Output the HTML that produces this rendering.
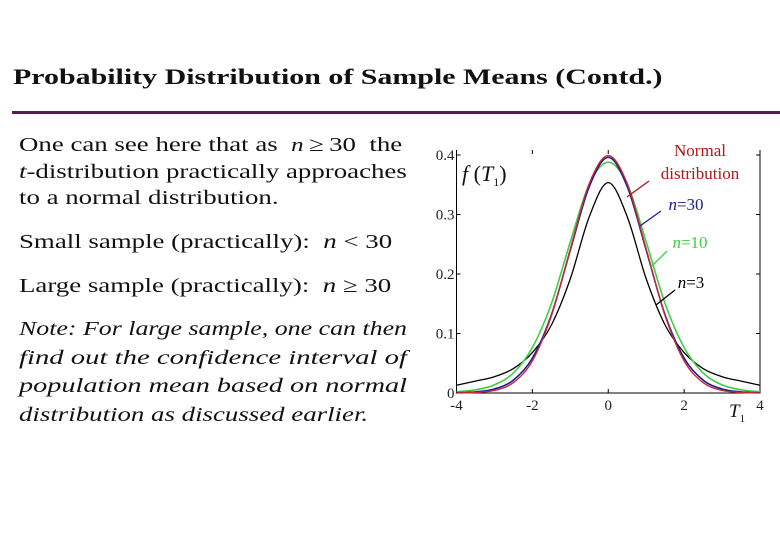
<!DOCTYPE html>
<html><head><meta charset="utf-8"><style>
body{margin:0;width:780px;height:540px;background:#fff;overflow:hidden;position:relative;font-family:"Liberation Serif",serif;}
.t{position:absolute;white-space:nowrap;color:#111;transform-origin:0 0;}
.nl{position:absolute;left:19px;white-space:nowrap;font-size:20.5px;font-style:italic;color:#111;transform-origin:0 0;}
</style></head><body>
<div class="t" style="left:13px;top:64px;font-size:22.5px;font-weight:bold;transform:scaleX(1.33);">Probability Distribution of Sample Means (Contd.)</div>
<div style="position:absolute;left:12px;top:111px;width:768px;height:3px;background:#5a1a52;"></div>
<div class="t" style="left:19px;top:132px;font-size:20.5px;line-height:26px;transform:scaleX(1.31);">One can see here that as &nbsp;<i style="font-size:19px">n</i>&thinsp;≥&thinsp;30 &nbsp;the<br><i>t</i>-distribution practically approaches<br>to a normal distribution.</div>
<div class="t" style="left:19px;top:231px;font-size:20.5px;transform:scaleX(1.31);">Small sample (practically): &nbsp;<i>n</i> &lt; 30</div>
<div class="t" style="left:19px;top:275px;font-size:20.5px;transform:scaleX(1.31);">Large sample (practically): &nbsp;<i>n</i> ≥ 30</div>
<div>
<div class="nl fit" style="top:318px">Note: For large sample, one can then</div>
<div class="nl fit" style="top:346.5px">find out the confidence interval of</div>
<div class="nl fit" style="top:375px">population mean based on normal</div>
<div class="nl" style="top:403.5px;transform:scaleX(1.31)">distribution as discussed earlier.</div>
</div>
<svg id="chart" width="780" height="540" style="position:absolute;left:0;top:0" font-family="Liberation Serif, serif"></svg>
<script>
document.querySelectorAll('.fit').forEach(d=>{const w=d.getBoundingClientRect().width;d.style.transform='scaleX('+(388/w)+')';});
const xs=[-4,-3.5,-3,-2.5,-2,-1.5,-1,-0.5,0,0.5,1,1.5,2,2.5,3,3.5,4];
const normalVals=[0.0001,0.0009,0.0044,0.0175,0.054,0.1295,0.242,0.352,0.399,0.352,0.242,0.1295,0.054,0.0175,0.0044,0.0009,0.0001];
const n30Vals=[0.0004,0.0019,0.0068,0.0216,0.0586,0.131,0.240,0.347,0.396,0.347,0.240,0.131,0.0586,0.0216,0.0068,0.0019,0.0004];
const n10Vals=[0.0021,0.0054,0.0137,0.0337,0.0764,0.150,0.254,0.351,0.388,0.351,0.254,0.150,0.0764,0.0337,0.0137,0.0054,0.0021];
const n3Vals=[0.0131,0.0200,0.0274,0.0411,0.068,0.1141,0.192,0.2963,0.3536,0.2963,0.192,0.1141,0.068,0.0411,0.0274,0.0200,0.0131];
const xTicks=[-4,-2,0,2,4];
const xTickLabels=["-4","-2","0","2","4"];
const yTicks=[0,0.1,0.2,0.3,0.4];
const yTickLabels=["0","0.1","0.2","0.3","0.4"];
const svg=document.getElementById('chart');
const NS='http://www.w3.org/2000/svg';
const X0=456.5,X1=760,Y0=393,Y1=155;
function sx(v){return X0+(v+4)/8*(X1-X0);}
function sy(v){return Y0-v/0.4*(Y0-Y1);}
function mk(tag,attrs){const e=document.createElementNS(NS,tag);for(const k in attrs)e.setAttribute(k,attrs[k]);svg.appendChild(e);return e;}
let e=mk('path',{d:`M${X0} ${Y1-5}V${Y0}H${X1}V${Y1-5}`,fill:'none',stroke:'#000','stroke-width':1});


xTicks.forEach((t,i)=>{
 const x=sx(t);
 let l=mk('line',{x1:x,x2:x,y1:Y0,y2:Y0-4,stroke:'#000'});
 
 
 let l2=mk('line',{x1:x,x2:x,y1:Y1-5,y2:Y1-1,stroke:'#000'});
 
 
 let tx=mk('text',{x:x,y:Y0+17,'font-size':15,'text-anchor':'middle',fill:'#222'});
 tx.textContent=xTickLabels[i];
 
 
});
yTicks.forEach((t,i)=>{
 const y=sy(t);
 let l=mk('line',{x1:X0,x2:X0+4,y1:y,y2:y,stroke:'#000'});
 
 
 let l2=mk('line',{x1:X1,x2:X1-4,y1:y,y2:y,stroke:'#000'});
 
 
 let tx=mk('text',{x:X0-2,y:y+5,'font-size':15,'text-anchor':'end',fill:'#222'});
 tx.textContent=yTickLabels[i];
 
 
});
function curve(vals){
 const p=xs.map((x,i)=>[sx(x),sy(vals[i])]);
 let d=`M${p[0][0]} ${p[0][1]}`;
 for(let i=0;i<p.length-1;i++){
  const a=p[Math.max(0,i-1)],b=p[i],c=p[i+1],f=p[Math.min(p.length-1,i+2)];
  d+=`C${b[0]+(c[0]-a[0])/6} ${b[1]+(c[1]-a[1])/6} ${c[0]-(f[0]-b[0])/6} ${c[1]-(f[1]-b[1])/6} ${c[0]} ${c[1]}`;
 }
 return d;
}
e=mk('path',{d:curve(n3Vals),fill:'none',stroke:'#000','stroke-width':1.3});


e=mk('path',{d:curve(n10Vals),fill:'none',stroke:'#3ecf3e','stroke-width':1.6});


e=mk('path',{d:curve(n30Vals),fill:'none',stroke:'#1c1c8c','stroke-width':1.6});


e=mk('path',{d:curve(normalVals),fill:'none',stroke:'#c8283c','stroke-width':1.4});


function lab(txt,x,y,col,name){
 const t=mk('text',{x:x,y:y,'font-size':17,fill:col,'text-anchor':'middle'});
 t.innerHTML=txt;
 
 
}
lab('Normal',700,156,'#b0181c','normal-label');
lab('distribution',700,179,'#b0181c','normal-label-2');
lab('<tspan font-style="italic">n</tspan>=30',686,210,'#1c1c8c','n30-label');
lab('<tspan font-style="italic">n</tspan>=10',690,248,'#3ecf3e','n10-label');
lab('<tspan font-style="italic">n</tspan>=3',691,288,'#000','n3-label');
[[649,181,627,197,'#b0181c'],[661,211,640,226,'#1c1c8c'],[667,251,651,267,'#3ecf3e'],[675,290,656,305,'#000']].forEach(a=>{
 const l=mk('line',{x1:a[0],y1:a[1],x2:a[2],y2:a[3],stroke:a[4],'stroke-width':1.3});
 
 
});
let yl=mk('text',{x:462,y:181,'font-size':22,fill:'#111'});
yl.innerHTML='<tspan font-style="italic">f</tspan> (<tspan font-style="italic">T</tspan><tspan font-size="12" dy="5">1</tspan><tspan dy="-5">)</tspan>';


let xl=mk('text',{x:729,y:417,'font-size':19,fill:'#111','font-style':'italic'});
xl.innerHTML='T<tspan font-size="11" dy="5" font-style="normal">1</tspan>';


</script>
</body></html>
